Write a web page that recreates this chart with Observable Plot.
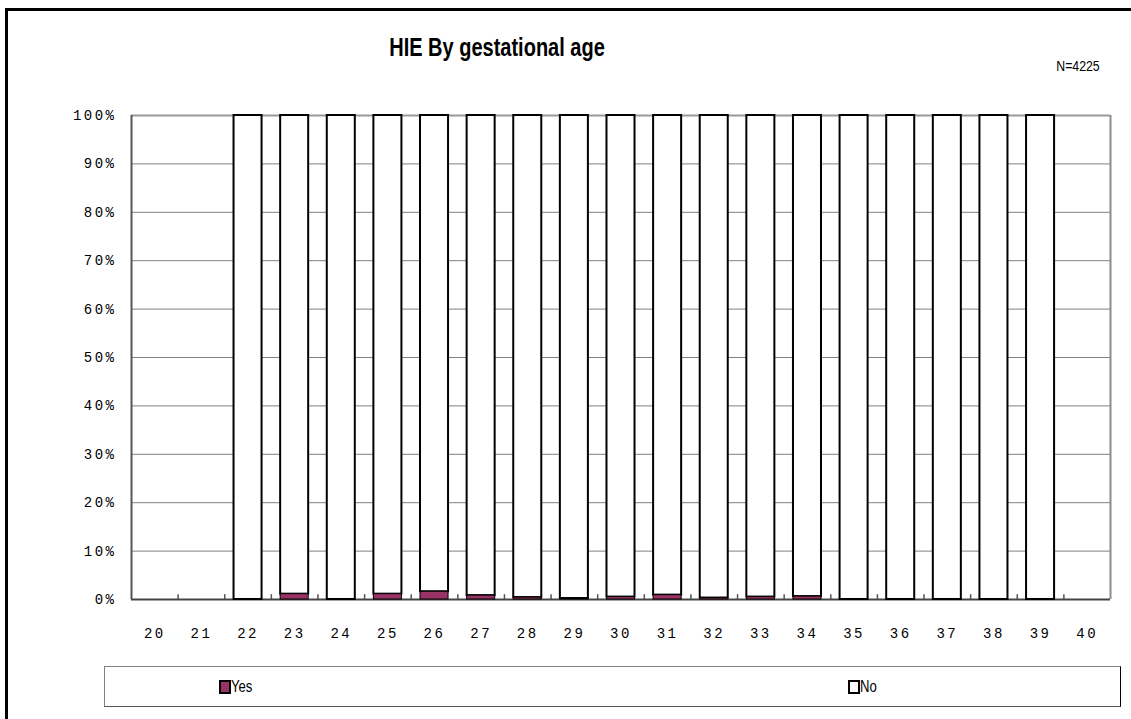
<!DOCTYPE html>
<html>
<head>
<meta charset="utf-8">
<script src="https://cdn.jsdelivr.net/npm/d3@7"></script>
<script src="https://cdn.jsdelivr.net/npm/@observablehq/plot@0.6"></script>
<style>
  html, body { margin: 0; padding: 0; background: #fff; }
  #wrap { position: relative; width: 1131px; height: 719px; overflow: hidden; background: #fff; }
  #chart { position: absolute; left: 0; top: 0; }
  .abs { position: absolute; white-space: nowrap; }
  #title { font-family: "Liberation Sans", Arial, sans-serif; font-weight: bold; font-size: 25px; line-height: 25px; left: 497px; top: 35px; transform-origin: 50% 50%; transform: translateX(-50%) scaleX(0.8); color: #000; }
  #note { font-family: "Liberation Sans", Arial, sans-serif; font-size: 15px; line-height: 15px; left: 1078px; top: 58px; transform-origin: 50% 50%; transform: translateX(-50%) scaleX(0.82); color: #000; }
  #frameL { left: 5px; top: 8px; width: 3px; height: 711px; background: #000; }
  #frameT { left: 5px; top: 8px; width: 1126px; height: 3px; background: #000; }
  #legend { left: 104px; top: 666px; width: 1015px; height: 39px; border-top: 1px solid #808080; border-left: 1px solid #808080; border-right: 1px solid #000; border-bottom: 1px solid #555; }
  .sw { position: absolute; width: 8px; height: 10px; border: 2px solid #000; top: 13px; }
  .lt { position: absolute; font-family: "Liberation Sans", Arial, sans-serif; font-size: 16px; line-height: 16px; top: 12px; transform-origin: 0 50%; transform: scaleX(0.82); }
</style>
</head>
<body>
<div id="wrap">
  <div id="chart"></div>
  <div class="abs" id="frameL"></div>
  <div class="abs" id="frameT"></div>
  <div class="abs" id="title"></div>
  <div class="abs" id="note"></div>
  <div class="abs" id="legend"></div>
</div>
<script>
// ---- Data ----
const ages = [20, 21, 22, 23, 24, 25, 26, 27, 28, 29, 30, 31, 32, 33, 34, 35, 36, 37, 38, 39, 40];
// percentage of HIE = Yes per gestational age (null = no cases)
const yesPct = [null, null, 0, 1.1, 0, 1.1, 1.6, 0.8, 0.4, 0.2, 0.5, 0.9, 0.3, 0.5, 0.6, 0, 0, 0, 0, 0, null];
const seriesNames = ["Yes", "No"];
const seriesColors = ["#993366", "#ffffff"];
const yTicks = [0, 10, 20, 30, 40, 50, 60, 70, 80, 90, 100];
const titleText = "HIE By gestational age";
const noteText = "N=4225";

// ---- Build tables ----
const rows = ages.map((a, i) => ({age: a, yes: yesPct[i]})).filter(d => d.yes !== null);
const yesRows = rows.map(d => ({age: d.age, y1: 0, y2: d.yes, series: "Yes"}));
const noRows = rows.map(d => ({age: d.age, y1: d.yes, y2: 100, series: "No"}));
const boundaries = ages.slice(0, -1).map(a => a + 0.5);

const monoFont = "'Liberation Mono', 'DejaVu Sans Mono', monospace";

const chart = Plot.plot({
  width: 1131,
  height: 660,
  marginLeft: 131,
  marginRight: 21,
  marginTop: 115,
  marginBottom: 61,
  style: {background: "transparent", overflow: "visible"},
  x: {domain: [ages[0] - 0.5, ages[ages.length - 1] + 0.5]},
  y: {domain: [0, 100]},
  marks: [
    Plot.gridY(yTicks, {stroke: "#808080", strokeOpacity: 1, strokeWidth: 1}),
    Plot.ruleY([100], {stroke: "#999999", strokeWidth: 2}),
    Plot.ruleX([ages[ages.length - 1] + 0.5], {stroke: "#8c8c8c", strokeWidth: 2}),
    Plot.ruleX([ages[0] - 0.5], {stroke: "#555555", strokeWidth: 2}),
    Plot.ruleX(boundaries, {y1: 0, y2: 1, stroke: "#555555", strokeWidth: 1.5}),
    Plot.ruleY([0], {stroke: "#444444", strokeWidth: 2}),
    Plot.rectY(noRows, {
      x1: d => d.age - 0.5, x2: d => d.age + 0.5, y1: "y1", y2: "y2",
      insetLeft: 9.3, insetRight: 9.3,
      fill: seriesColors[1], stroke: "#000", strokeWidth: 2
    }),
    Plot.rectY(yesRows.filter(d => d.y2 > 0), {
      x1: d => d.age - 0.5, x2: d => d.age + 0.5, y1: "y1", y2: "y2",
      insetLeft: 9.3, insetRight: 9.3,
      fill: seriesColors[0], stroke: "#000", strokeWidth: 1
    }),
    Plot.axisY(yTicks, {
      tickSize: 0, tickPadding: 15, tickFormat: d => d + "%",
      fontFamily: monoFont, fontSize: 14, fill: "#000"
    }),
    Plot.axisX(ages, {
      tickSize: 0, tickPadding: 29, tickFormat: d => String(d),
      fontFamily: monoFont, fontSize: 14, fill: "#000"
    })
  ]
});
chart.querySelectorAll("text").forEach(t => t.style.letterSpacing = "2.5px");
document.getElementById("chart").appendChild(chart);

document.getElementById("title").textContent = titleText;
document.getElementById("note").textContent = noteText;

// legend
const legend = document.getElementById("legend");
const legendX = [114, 743];
seriesNames.forEach((name, i) => {
  const sw = document.createElement("div");
  sw.className = "sw";
  sw.style.left = legendX[i] + "px";
  sw.style.background = seriesColors[i];
  legend.appendChild(sw);
  const lt = document.createElement("div");
  lt.className = "lt";
  lt.style.left = (legendX[i] + 12) + "px";
  lt.textContent = name;
  legend.appendChild(lt);
});
</script>
</body>
</html>
